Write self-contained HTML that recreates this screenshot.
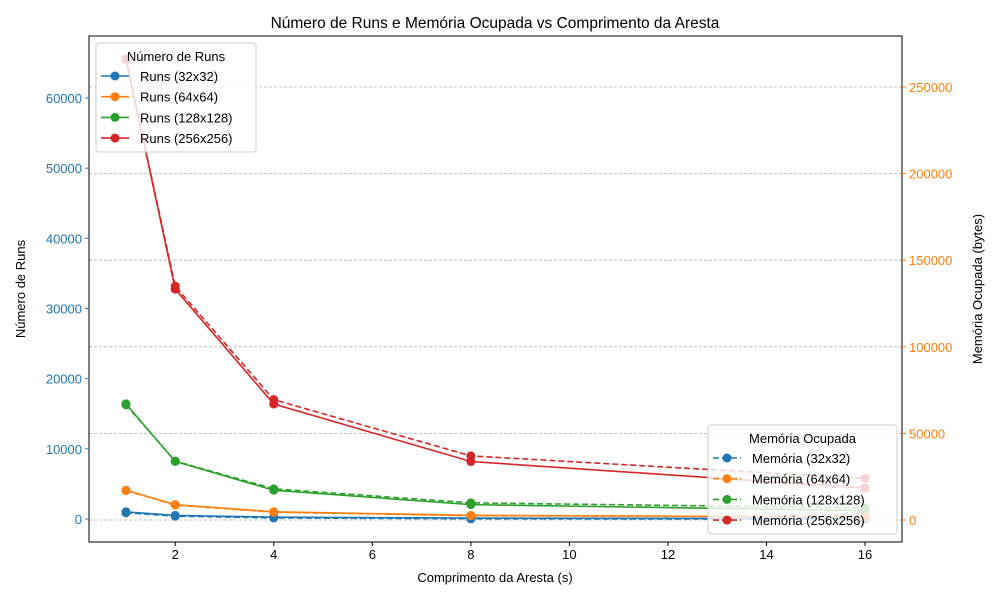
<!DOCTYPE html><html><head><meta charset="utf-8"><style>
body{margin:0;background:#fff}svg{font-family:"Liberation Sans","DejaVu Sans",sans-serif}
</style></head><body>
<svg id="c" width="1000" height="600"></svg>
<script>
const xs=[1,2,4,8,16];
const runs32=[1024,512,256,128,64];
const runs64=[4100,2050,1025,520,300];
const runs128=[16400,8200,4100,2050,1200];
const runs256=[65536,32768,16384,8192,4400];
const mem32=[4200,2200,1200,700,500];
const mem64=[17000,8600,4500,2500,1800];
const mem128=[66500,34000,18000,9900,7000];
const mem256=[266000,135000,69500,37000,24000];
const xTicks=[2,4,6,8,10,12,14,16];
const yLTicks=[0,10000,20000,30000,40000,50000,60000];
const yRTicks=[0,50000,100000,150000,200000,250000];
const L=89,R=902,T=36,B=542;
const X=v=>L+(v-0.25)/16.5*(R-L);
const YL=v=>519-v*0.0070167;
const YR=v=>520-v*0.001732;
const svg=document.getElementById('c');const NS='http://www.w3.org/2000/svg';
function mk(t,a,p){const e=document.createElementNS(NS,t);for(const k in a)e.setAttribute(k,a[k]);(p||svg).appendChild(e);return e;}
function tx(x,y,s,a){const e=mk('text',Object.assign({x:x,y:y,'font-size':13,fill:'#000'},a||{}));e.textContent=s;return e;}
// grid (right axis)
yRTicks.forEach(v=>{const g=mk('line',{x1:L,x2:R,y1:YR(v),y2:YR(v),stroke:'#b0b0b0','stroke-width':0.8,'stroke-dasharray':'3,2'});

});
const fr=mk('rect',{x:L,y:T,width:R-L,height:B-T,fill:'none',stroke:'#000','stroke-width':1});

xTicks.forEach(v=>{mk('line',{x1:X(v),x2:X(v),y1:B,y2:B+4,stroke:'#000'});const t=tx(X(v),B+17,String(v),{'text-anchor':'middle'});
});
yLTicks.forEach(v=>{mk('line',{x1:L-4,x2:L,y1:YL(v),y2:YL(v),stroke:'#1f77b4'});const t=tx(L-7,YL(v)+5,String(v),{'text-anchor':'end',fill:'#1f77b4'});
});
yRTicks.forEach(v=>{mk('line',{x1:R,x2:R+4,y1:YR(v),y2:YR(v),stroke:'#ff7f0e'});const t=tx(R+7,YR(v)+5,String(v),{fill:'#ff7f0e'});
});
const colors=['#1f77b4','#ff7f0e','#2ca02c','#d62728'];
const runsS=[runs32,runs64,runs128,runs256],memS=[mem32,mem64,mem128,mem256];
const names=['32x32','64x64','128x128','256x256'];
function series(vals,Y,c,dash,name){const g=mk('g',{});
mk('polyline',{points:vals.map((v,i)=>X(xs[i])+','+Y(v)).join(' '),fill:'none',stroke:c,'stroke-width':1.6,'stroke-dasharray':dash||''},g);
vals.forEach((v,i)=>{const p=mk('circle',{cx:X(xs[i]),cy:Y(v),r:4.5,fill:c},g);});}
runsS.forEach((s,i)=>series(s,YL,colors[i],'',('runs-'+names[i]+'-line').toLowerCase()));
memS.forEach((s,i)=>series(s,YR,colors[i],'6,3',('memoria-'+names[i]+'-line').toLowerCase()));
const tt=tx(495,28,'Número de Runs e Memória Ocupada vs Comprimento da Aresta',{'text-anchor':'middle','font-size':15.5});

const xl=tx(495,582,'Comprimento da Aresta (s)',{'text-anchor':'middle'});
const yl=tx(0,0,'Número de Runs',{'text-anchor':'middle',transform:'translate(25,289) rotate(-90)'});
const yr=tx(0,0,'Memória Ocupada (bytes)',{'text-anchor':'middle',transform:'translate(982,289) rotate(-90)'});
function legend(x,y,w,title,labels,dash,name){const g=mk('g',{});
mk('rect',{x:x,y:y,width:w,height:109,rx:3,fill:'#fff','fill-opacity':0.8,stroke:'#ccc'},g);
const t=mk('text',{x:x+w/2,y:y+18,'text-anchor':'middle','font-size':13},g);t.textContent=title;
labels.forEach((l,i)=>{const yy=y+33+i*20.7;mk('line',{x1:x+5,x2:x+33,y1:yy,y2:yy,stroke:colors[i],'stroke-width':1.6,'stroke-dasharray':dash},g);
mk('circle',{cx:x+19,cy:yy,r:4.5,fill:colors[i]},g);const e=mk('text',{x:x+44,y:yy+5,'font-size':13},g);e.textContent=l;
});}
legend(96,43,160,'Número de Runs',names.map(n=>'Runs ('+n+')'),'','legend-runs');
legend(708,425,189,'Memória Ocupada',names.map(n=>'Memória ('+n+')'),'6,3','legend-memoria');
</script></body></html>
